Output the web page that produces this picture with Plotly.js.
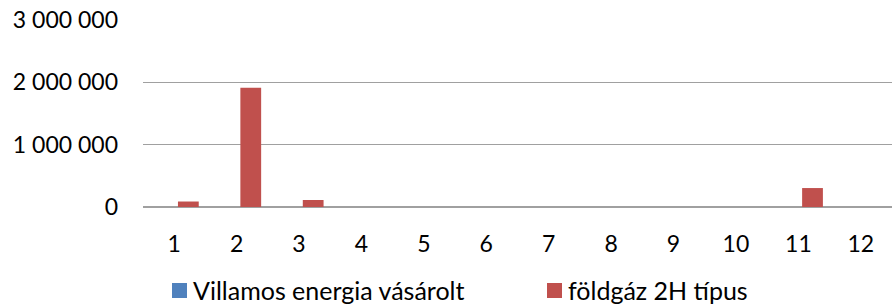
<!DOCTYPE html>
<html>
<head>
<meta charset="utf-8">
<script src="https://cdn.plot.ly/plotly-3.0.1.min.js"></script>
<style>html,body{margin:0;padding:0;background:#fff;}#chart{width:892px;height:304px;}</style>
</head>
<body>
<div id="chart"></div>
<script>
const months = ["1","2","3","4","5","6","7","8","9","10","11","12"];
const villamosEnergia = [0,0,0,0,0,0,0,0,0,0,0,0];
const foldgaz2H = [88000,1915000,112000,0,0,0,0,0,0,0,304000,0];
const seriesNames = ["Villamos energia vásárolt","földgáz 2H típus"];
const seriesColors = ["#4f81bd","#c0504d"];
const yTicks = [0,1000000,2000000,3000000];

const fam = "Lato, 'Open Sans', sans-serif";
const tickFont = {family:fam, size:23, color:"#000"};
const legendFont = {family:fam, size:25, color:"#000"};

// plot area geometry (pixels)
const W = 892, H = 304, L = 143, R = 0, T = 20, B = 97;
const pw = W - L - R, ph = H - T - B;
const px = x => (x - L) / pw;
const py = y => (H - B - y) / ph;

const traces = [
  {type:"bar", name:seriesNames[0], x:months, y:villamosEnergia,
   width:0.333, offset:-0.273, marker:{color:seriesColors[0]}, showlegend:false},
  {type:"bar", name:seriesNames[1], x:months, y:foldgaz2H,
   width:0.333, offset:0.06, marker:{color:seriesColors[1]}, showlegend:false}
];

// manual legend (squares + text) matching the reference
const legendX = [172, 547];
const shapes = [], annotations = [];
seriesNames.forEach((name, i) => {
  shapes.push({type:"rect", xref:"paper", yref:"paper",
    x0:px(legendX[i]), x1:px(legendX[i] + 15), y0:py(298), y1:py(283),
    fillcolor:seriesColors[i], line:{width:0}});
  annotations.push({xref:"paper", yref:"paper", x:px(legendX[i] + 20), y:py(290),
    xanchor:"left", yanchor:"middle", text:name, showarrow:false,
    font:legendFont, borderpad:0});
});

const layout = {
  width:W, height:H,
  margin:{l:L, r:R, t:T, b:B, autoexpand:false},
  paper_bgcolor:"#fff", plot_bgcolor:"#fff",
  separators:", ",
  font:tickFont,
  barmode:"group",
  showlegend:false,
  shapes:shapes, annotations:annotations,
  xaxis:{type:"category", showgrid:false, zeroline:false, showline:false,
         ticks:"", ticklabelstandoff:21, tickfont:tickFont, fixedrange:true},
  yaxis:{range:[0,3000000], tickvals:yTicks, tickformat:",d",
         showgrid:true, gridcolor:"#a0a0a0", gridwidth:1.5,
         zeroline:true, zerolinecolor:"#a0a0a0", zerolinewidth:1.5,
         showline:false, ticks:"", ticklabelstandoff:24, tickfont:tickFont, fixedrange:true}
};

Plotly.newPlot("chart", traces, layout, {displayModeBar:false, staticPlot:true});
</script>
</body>
</html>
